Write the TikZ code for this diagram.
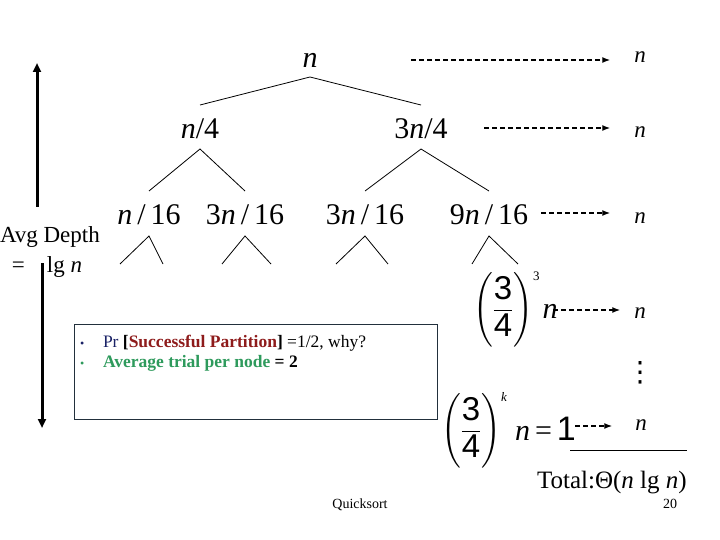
\documentclass[tikz,border=0pt]{standalone}
\usepackage{fontspec}
\setmainfont{Liberation Serif}
\setsansfont{Liberation Sans}
\newfontfamily\symbolfont{DejaVu Sans}
\usepackage{amsmath}
\usetikzlibrary{arrows.meta,positioning,calc}
\definecolor{prblue}{HTML}{1A2266}
\definecolor{partred}{HTML}{8E1B1B}
\definecolor{trialgreen}{HTML}{2E9A5C}
\definecolor{boxline}{HTML}{22303C}
\tikzset{%
    >={Latex[width=2mm,length=2mm]},
    % Specifications for style of nodes:
    plain/.style = {inner sep=0pt, outer sep=0pt},
    lvl/.style = {plain, anchor=base, font=\fontsize{30}{36}\selectfont},
    cost/.style = {plain, anchor=base, font=\fontsize{23}{28}\selectfont\itshape},
    frac/.style = {plain, anchor=west, font=\fontsize{33}{38}\selectfont},
    note/.style = {plain, anchor=base west, font=\fontsize{17.5}{20}\selectfont},
    % Specifications for style of lines:
    edge/.style = {line width=0.8pt},
    costarrow/.style = {-{Latex[width=6pt,length=8pt]}, line width=1.4pt,
        dash pattern=on 5pt off 3pt},
    deptharrow/.style = {-{Triangle[width=8pt,length=9pt]}, line width=3pt}
}
\newcommand{\supsize}{\fontsize{13}{13}\selectfont}
\newcommand{\tallpar}{\rule[-30pt]{0pt}{76pt}}

\begin{document}
\begin{tikzpicture}[x=1pt, y=-1pt]
    \useasboundingbox (0,0) rectangle (720,540);

    % recursion tree
    \node[lvl] (root) at (310,68) {\textit{n}};
    \node[lvl] (n4) at (200,139) {\textit{n}/4};
    \node[lvl] (n34) at (421,139) {3\textit{n}/4};
    \node[lvl] (n16a) at (149,225) {\textit{n}\,/\,16};
    \node[lvl] (n316a) at (245,225) {3\textit{n}\,/\,16};
    \node[lvl] (n316b) at (365,225) {3\textit{n}\,/\,16};
    \node[lvl] (n916) at (489,225) {9\textit{n}\,/\,16};

    \draw[edge] (n4 |- 0,105) -- (root |- 0,77) -- (n34 |- 0,105);
    \draw[edge] (n16a |- 0,191) -- (n4 |- 0,149) -- (n316a |- 0,191);
    \draw[edge] (n316b |- 0,191) -- (n34 |- 0,149) -- (n916 |- 0,191);
    \foreach \nd/\l/\r in {n16a/29/14, n316a/23/26, n316b/29/23, n916/17/29}
        \draw[edge] ($(\nd |- 0,264)+(-\l,0)$) -- (\nd |- 0,236) -- ($(\nd |- 0,264)+(\r,0)$);

    % deeper levels
    \node[frac] (f3) at (473,309) {$\left(\tallpar\dfrac{\textsf{3}}{\textsf{4}}\right)^{\hbox{\supsize 3}}$};
    \node[lvl] (f3n) at (550,318) {\textit{n}};
    \node[frac] (fk) at (441,430) {$\left(\tallpar\dfrac{\textsf{3}}{\textsf{4}}\right)^{\hbox{\supsize\textit{k}}}$};
    \node[lvl, anchor=base west] (fkn) at (515,440) {\textit{n}\,=\,\textsf{\fontsize{34}{38}\selectfont 1}};

    % cost per level
    \node[cost] (c0) at (640,63) {n};
    \node[cost] (c1) at (640,138) {n};
    \node[cost] (c2) at (640,223) {n};
    \node[cost] (c3) at (640,318) {n};
    \node[cost] (ck) at (641,430) {n};
    \node[plain, font=\fontsize{28}{28}\symbolfont] (dots) at (640,373) {⋮};

    \coordinate (s0) at (411,60);
    \coordinate (s1) at (484,128);
    \coordinate (s2) at (541,213);
    \coordinate (s3) at (553,310);
    \coordinate (sk) at (575,426);
    \draw[costarrow, shorten >=24pt] (s0) -- (s0 -| c0.west);
    \draw[costarrow, shorten >=24pt] (s1) -- (s1 -| c1.west);
    \draw[costarrow, shorten >=24pt] (s2) -- (s2 -| c2.west);
    \draw[costarrow, shorten >=14pt] (s3) -- (s3 -| c3.west);
    \draw[costarrow, shorten >=23pt] (sk) -- (sk -| ck.west);

    % total
    \node[plain, anchor=base west, font=\fontsize{25}{28}\selectfont] (total) at (537,488) {Total:Θ(\textit{n} lg \textit{n})};
    \draw[edge] (570,450) -- (total.east |- 0,450);

    % average depth
    \node[plain, anchor=base west, font=\fontsize{23}{28}\selectfont] (avg) at (0,242) {Avg Depth};
    \node[plain, anchor=base west, font=\fontsize{23}{28}\selectfont] (lgn) at (12,272) {=\hspace{22pt}lg \textit{n}};
    \coordinate (up-from) at (37,207);
    \coordinate (up-to) at (37,63);
    \coordinate (down-from) at (42,263);
    \coordinate (down-to) at (42,428);
    \draw[deptharrow] (up-from) -- (up-to);
    \draw[deptharrow] (down-from) -- (down-to);

    % notes box
    \node[plain, draw=boxline, line width=0.8pt, minimum width=363pt, minimum height=95pt] (box) at (255.5,371.5) {};
    \node[note] (why) at (80,347) {\makebox[23pt][l]{\textcolor{prblue}{\fontsize{12}{12}\selectfont\textbullet}}\textcolor{prblue}{Pr} \textbf{[\textcolor{partred}{Successful Partition}]} =1/2, why?};
    \node[note] (trial) at (80,367) {\makebox[23pt][l]{\textcolor{trialgreen}{\fontsize{12}{12}\selectfont\textbullet}}\textcolor{trialgreen}{\textbf{Average trial per node}} \textbf{= 2}};

    % footer
    \node[plain, anchor=base, font=\fontsize{14}{16}\selectfont] (title) at (360,508) {Quicksort};
    \node[plain, anchor=base, font=\fontsize{14}{16}\selectfont] (page) at (670,508) {20};
\end{tikzpicture}
\end{document}
